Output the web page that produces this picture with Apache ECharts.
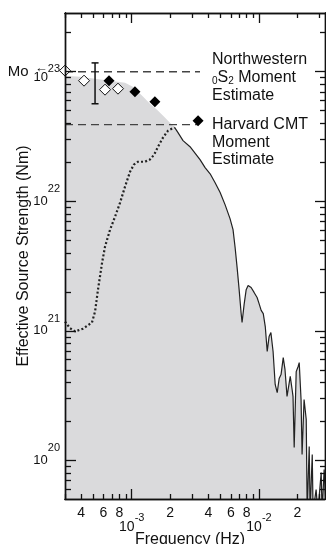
<!DOCTYPE html>
<html>
<head>
<meta charset="utf-8">
<script src="https://cdn.jsdelivr.net/npm/echarts@6/dist/echarts.min.js"></script>
<style>html,body{margin:0;padding:0;background:#fff}#c{width:326px;height:544px}</style>
</head>
<body>
<div id="c"></div>
<script>
// ---------------- data (frequency in Hz, source strength in Nm) ----------------
const xRange = [2.99e-4, 3.30e-2];
const yRange = [5.04e19, 2.84e23];

// solid spectrum (upper edge of the grey region right of the peak)
const solidFreq = [2.17e-3,2.31e-3,2.53e-3,2.87e-3,3.44e-3,3.77e-3,4.13e-3,4.52e-3,4.95e-3,5.41e-3,5.92e-3,6.25e-3,6.49e-3,6.73e-3,6.98e-3,7.23e-3,7.36e-3,7.64e-3,7.93e-3,8.21e-3,8.67e-3,9.15e-3,9.66e-3,1.00e-2,1.04e-2,1.08e-2,1.12e-2,1.16e-2,1.20e-2,1.24e-2,1.29e-2,1.34e-2,1.39e-2,1.44e-2,1.49e-2,1.55e-2,1.60e-2,1.66e-2,1.69e-2,1.76e-2,1.82e-2,1.85e-2,1.89e-2,1.96e-2,2.03e-2,2.07e-2,2.14e-2,2.18e-2,2.26e-2,2.35e-2,2.39e-2,2.48e-2,2.52e-2,2.62e-2,2.66e-2,2.81e-2,2.90e-2,3.08e-2,3.13e-2,3.25e-2,3.37e-2];
const solidMoment = [3.72e22,3.39e22,2.94e22,2.64e22,2.10e22,1.82e22,1.63e22,1.39e22,1.17e22,9.43e21,7.35e21,6.05e21,4.40e21,3.08e21,2.08e21,1.38e21,1.16e21,1.60e21,2.08e21,2.24e21,2.16e21,1.98e21,1.81e21,1.63e21,1.44e21,1.36e21,1.08e21,6.93e20,9.04e20,9.70e20,6.93e20,3.86e20,3.34e20,4.29e20,4.60e20,6.22e20,5.04e20,3.12e20,3.12e20,4.45e20,3.53e20,3.12e20,1.26e20,4.85e20,5.31e20,5.69e20,2.95e20,1.11e20,2.95e20,2.07e20,4.0e19,1.28e20,4.0e19,1.11e20,4.0e19,5.97e19,4.0e19,8.07e19,4.0e19,8.5e19,4.0e19];

// grey envelope left of the peak
const envelopeFreq = [2.99e-4,3.93e-4,5.15e-4,6.76e-4,8.86e-4,1.02e-3,1.23e-3,1.39e-3,1.58e-3,1.83e-3];
const envelopeMoment = [9.3e22,9.15e22,8.83e22,8.53e22,8.22e22,7.66e22,6.41e22,5.66e22,5.09e22,4.42e22];

// dotted spectrum
const dottedFreq = [2.99e-4,3.27e-4,3.59e-4,4.14e-4,4.87e-4,5.15e-4,5.43e-4,5.85e-4,6.17e-4,6.76e-4,7.40e-4,8.10e-4,8.86e-4,9.70e-4,1.04e-3,1.12e-3,1.27e-3,1.39e-3,1.50e-3,1.61e-3,1.76e-3,1.93e-3,2.17e-3];
const dottedMoment = [1.18e21,1.05e21,9.9e20,1.04e21,1.16e21,1.41e21,2.08e21,3.37e21,4.47e21,6.05e21,7.62e21,9.77e21,1.30e22,1.69e22,1.92e22,2.02e22,2.02e22,2.10e22,2.29e22,2.64e22,3.10e22,3.51e22,3.72e22];

// moment estimates (diamonds)
const openFreq = [2.99e-4,4.22e-4,6.17e-4,7.80e-4];
const openMoment = [1.02e23,8.53e22,7.27e22,7.40e22];
const filledFreq = [6.63e-4,1.06e-3,1.52e-3,3.32e-3];
const filledMoment = [8.53e22,7.02e22,5.87e22,4.19e22];

// error bar
const errFreq = [5.15e-4];
const errLow = [5.66e22];
const errHigh = [1.17e23];

// reference levels (dashed)
const moRefFreq = [2.99e-4, 3.44e-3];
const moRefMoment = 1.0e23;
const cmtRefFreq = [2.99e-4, 3.30e-3];
const cmtRefMoment = 3.9e22;

// ticks and tick labels
const xMinorTicks = [3e-4,4e-4,5e-4,6e-4,7e-4,8e-4,9e-4,2e-3,3e-3,4e-3,5e-3,6e-3,7e-3,8e-3,9e-3,2e-2,3e-2];
const xMajorTicks = [1e-3,1e-2];
const xDigitLabels = [4e-4,6e-4,8e-4,2e-3,4e-3,6e-3,8e-3,2e-2];
const yMinorTicks = [6e19,7e19,8e19,9e19,2e20,3e20,4e20,5e20,6e20,7e20,8e20,9e20,2e21,3e21,4e21,5e21,6e21,7e21,8e21,9e21,2e22,3e22,4e22,5e22,6e22,7e22,8e22,9e22,2e23];
const yMajorTicks = [1e20,1e21,1e22,1e23];

// ---------------- chart ----------------
const lg = Math.log10;
const pts = (xs, ys) => xs.map((x, i) => [lg(x), lg(ys[i])]);
const FONT = "'Liberation Sans', Arial, Helvetica, sans-serif";
const ink = '#111';
const X_LIM = [lg(xRange[0]), lg(xRange[1])];
const Y_LIM = [lg(yRange[0]), lg(yRange[1])];

function axisBase(pos, lim, tickVals, tickLen, extra) {
  return Object.assign({
    type: 'value', position: pos, min: lim[0], max: lim[1], z: 10,
    axisLine: {show: true, onZero: false, lineStyle: {color: ink, width: 1.4}},
    axisTick: {show: true, inside: true, length: tickLen, customValues: tickVals.map(lg),
               lineStyle: {color: ink, width: 1.3}},
    axisLabel: {show: false},
    splitLine: {show: false}
  }, extra || {});
}

function mantissa(v) {
  const e = Math.floor(v + 1e-9);
  return String(Math.round(Math.pow(10, v - e)));
}

const supRich = {
  b: {fontSize: 14, fontFamily: FONT, color: ink, padding: [10, 0, 0, 0]},
  s: {fontSize: 11, fontFamily: FONT, color: ink, padding: [0, 0, 8, 0]}
};
const yRich = {
  b: {fontSize: 13, fontFamily: FONT, color: ink},
  s: {fontSize: 11, fontFamily: FONT, color: ink, padding: [0, 0, 24, 0]},
  ar: {fontSize: 13, fontFamily: FONT, color: ink, align: 'right', lineHeight: 12, padding: [6, 0, 0, 0]},
  s23: {fontSize: 11, fontFamily: FONT, color: ink, align: 'right', lineHeight: 12, padding: [6, 0, 0, 0]},
  mo: {fontSize: 15, fontFamily: FONT, color: ink, align: 'right', lineHeight: 12, padding: [0, 5, 12, 0]},
  b23: {fontSize: 13, fontFamily: FONT, color: ink, align: 'right', lineHeight: 12, padding: [0, 12, 0, 0]}
};
function yLabel(v) {
  const e = Math.round(v);
  if (e === 23) return '{ar|←}{s23|23}\n{mo|Mo}{b23|10}';
  return '{b|10}{s|' + e + '}';
}

const areaData = pts(envelopeFreq, envelopeMoment).concat(pts(solidFreq, solidMoment));

const option = {
  animation: false,
  backgroundColor: '#fff',
  textStyle: {fontFamily: FONT},
  grid: {left: 65, right: 1, top: 13, bottom: 45, outerBoundsMode: 'none'},
  xAxis: [
    axisBase('bottom', X_LIM, xMinorTicks, 5, {
      axisLabel: {show: true, customValues: xDigitLabels.map(lg), formatter: mantissa, margin: 7,
                  fontSize: 14, fontFamily: FONT, color: ink},
      name: 'Frequency (Hz)', nameLocation: 'middle', nameGap: 33,
      nameTextStyle: {fontSize: 16, fontFamily: FONT, color: ink, padding: [0, 10, 0, 0]}
    }),
    axisBase('bottom', X_LIM, xMajorTicks, 10, {
      axisLabel: {show: true, customValues: xMajorTicks.map(lg),
                  formatter: v => '{b|10}{s|' + Math.round(v) + '}', margin: 11, rich: supRich}
    }),
    axisBase('top', X_LIM, xMinorTicks, 5),
    axisBase('top', X_LIM, xMajorTicks, 10)
  ],
  yAxis: [
    axisBase('left', Y_LIM, yMinorTicks, 6, {
      name: 'Effective Source Strength (Nm)', nameLocation: 'middle', nameGap: 33,
      nameTextStyle: {fontSize: 16, fontFamily: FONT, color: ink}
    }),
    axisBase('left', Y_LIM, yMajorTicks, 11, {
      axisLabel: {show: true, customValues: yMajorTicks.map(lg), formatter: yLabel, margin: 5, rich: yRich}
    }),
    axisBase('right', Y_LIM, yMinorTicks, 5),
    axisBase('right', Y_LIM, yMajorTicks, 10)
  ],
  series: [
    {type: 'line', name: 'envelope', data: areaData, showSymbol: false, symbol: 'none',
     lineStyle: {width: 0}, areaStyle: {color: '#dadadc', opacity: 1, origin: 'start'}, clip: true, z: 1, silent: true},
    {type: 'line', name: 'Mo', data: moRefFreq.map(f => [lg(f), lg(moRefMoment)]), symbol: 'none',
     lineStyle: {color: '#444', width: 1.3, type: [8, 5]}, z: 3},
    {type: 'line', name: 'CMT', data: cmtRefFreq.map(f => [lg(f), lg(cmtRefMoment)]), symbol: 'none',
     lineStyle: {color: '#444', width: 1.3, type: [8, 5]}, z: 3},
    {type: 'line', name: 'dotted', data: pts(dottedFreq, dottedMoment), symbol: 'none',
     lineStyle: {color: '#222', width: 2.2, type: [2, 2.2]}, z: 4},
    {type: 'line', name: 'solid', data: pts(solidFreq, solidMoment), symbol: 'none', clip: true,
     lineStyle: {color: '#222', width: 1.2}, z: 4},
    {type: 'custom', name: 'err', z: 5,
     data: errFreq.map((f, i) => [lg(f), lg(errLow[i]), lg(errHigh[i])]),
     encode: {x: 0, y: [1, 2]},
     renderItem: (params, api) => {
       const p1 = api.coord([api.value(0), api.value(1)]);
       const p2 = api.coord([api.value(0), api.value(2)]);
       const w = 3.5, st = {stroke: ink, lineWidth: 1.5};
       return {type: 'group', children: [
         {type: 'line', shape: {x1: p1[0], y1: p1[1], x2: p2[0], y2: p2[1]}, style: st},
         {type: 'line', shape: {x1: p1[0] - w, y1: p1[1], x2: p1[0] + w, y2: p1[1]}, style: st},
         {type: 'line', shape: {x1: p2[0] - w, y1: p2[1], x2: p2[0] + w, y2: p2[1]}, style: st}
       ]};
     }},
    {type: 'scatter', name: 'open', data: pts(openFreq, openMoment), symbol: 'diamond', symbolSize: 11,
     itemStyle: {color: '#fff', borderColor: ink, borderWidth: 1, opacity: 1}, clip: false, z: 6},
    {type: 'scatter', name: 'filled', data: pts(filledFreq, filledMoment), symbol: 'diamond', symbolSize: 11,
     itemStyle: {color: '#000', opacity: 1}, clip: false, z: 6}
  ],
  graphic: [
    {type: 'text', left: 212, top: 51, z: 20,
     style: {text: 'Northwestern\n{sub|0}S{sub|2} Moment\nEstimate', font: '16px ' + FONT, fill: ink, lineHeight: 18,
             rich: {sub: {fontSize: 10, fontFamily: FONT, fill: ink, padding: [6, 0, 0, 0]}}}},
    {type: 'text', left: 212, top: 116, z: 20,
     style: {text: 'Harvard CMT\nMoment\nEstimate', font: '16px ' + FONT, fill: ink, lineHeight: 17.5}}
  ]
};

const chart = echarts.init(document.getElementById('c'), null, {renderer: 'canvas'});
chart.setOption(option);
</script>
</body>
</html>
